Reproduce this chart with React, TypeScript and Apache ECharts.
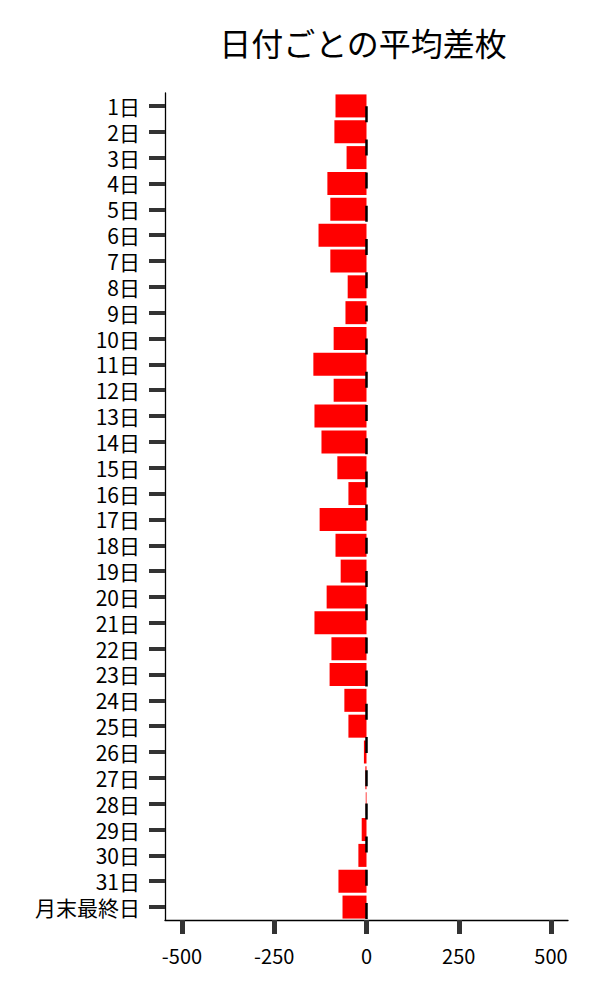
import React, { useEffect, useRef } from "react";
import * as echarts from "echarts";

const categories: string[] = [
  "1日", "2日", "3日", "4日", "5日", "6日", "7日", "8日", "9日", "10日",
  "11日", "12日", "13日", "14日", "15日", "16日", "17日", "18日", "19日", "20日",
  "21日", "22日", "23日", "24日", "25日", "26日", "27日", "28日", "29日", "30日",
  "31日", "月末最終日",
];

const averageDiff: number[] = [
  -84, -87, -54, -106, -98, -130, -98, -51, -57, -89,
  -144, -89, -141, -122, -79, -49, -127, -84, -70, -108,
  -141, -95, -100, -60, -49, -7, -3, -2, -13, -22,
  -76, -65,
];

const xTicks: number[] = [-500, -250, 0, 250, 500];
const xMin = -546;
const xMax = 546;

const titleText = "日付ごとの平均差枚";
const FONT = "'Noto Sans CJK JP', 'Noto Sans', sans-serif";

export default function App() {
  const ref = useRef<HTMLDivElement>(null);

  useEffect(() => {
    if (!ref.current) return;
    const chart = echarts.init(ref.current, undefined, { renderer: "svg" });
    chart.setOption({
      animation: false,
      backgroundColor: "#ffffff",
      textStyle: { fontFamily: FONT },
      title: {
        text: titleText,
        left: 358,
        top: 21,
        textAlign: "center",
        textStyle: { fontFamily: FONT, fontSize: 32, fontWeight: "normal", color: "#000" },
      },
      grid: { left: 165, right: 32, top: 93, bottom: 80, containLabel: false },
      xAxis: {
        type: "value",
        min: xMin,
        max: xMax,
        splitLine: { show: false },
        axisLine: { show: true, onZero: false, lineStyle: { color: "#000", width: 1.3 } },
        axisTick: {
          show: true,
          customValues: xTicks,
          length: 14,
          lineStyle: { color: "#333", width: 5 },
        },
        axisLabel: {
          customValues: xTicks,
          margin: 25,
          fontSize: 20,
          color: "#000",
          fontFamily: FONT,
        },
      },
      yAxis: {
        type: "category",
        data: categories,
        inverse: true,
        axisLine: { show: true, onZero: false, lineStyle: { color: "#000", width: 1.3 } },
        axisTick: {
          show: true,
          interval: 0,
          alignWithLabel: true,
          length: 16,
          lineStyle: { color: "#333", width: 4 },
        },
        axisLabel: {
          interval: 0,
          margin: 25,
          fontSize: 21,
          lineHeight: 23,
          color: "#000",
          fontFamily: FONT,
        },
        splitLine: { show: false },
      },
      series: [
        {
          type: "bar",
          data: averageDiff,
          barCategoryGap: "11%",
          itemStyle: { color: "#ff0000" },
          markLine: {
            silent: true,
            symbol: ["none", "none"],
            label: { show: false },
            lineStyle: { color: "#000", width: 2.5, type: [16, 17.2], dashOffset: 20 },
            data: [{ xAxis: 0 }],
          },
        },
      ],
    });
    return () => chart.dispose();
  }, []);

  return (
    <div
      ref={ref}
      style={{ position: "fixed", left: 0, top: 0, width: 600, height: 1000 }}
    />
  );
}
